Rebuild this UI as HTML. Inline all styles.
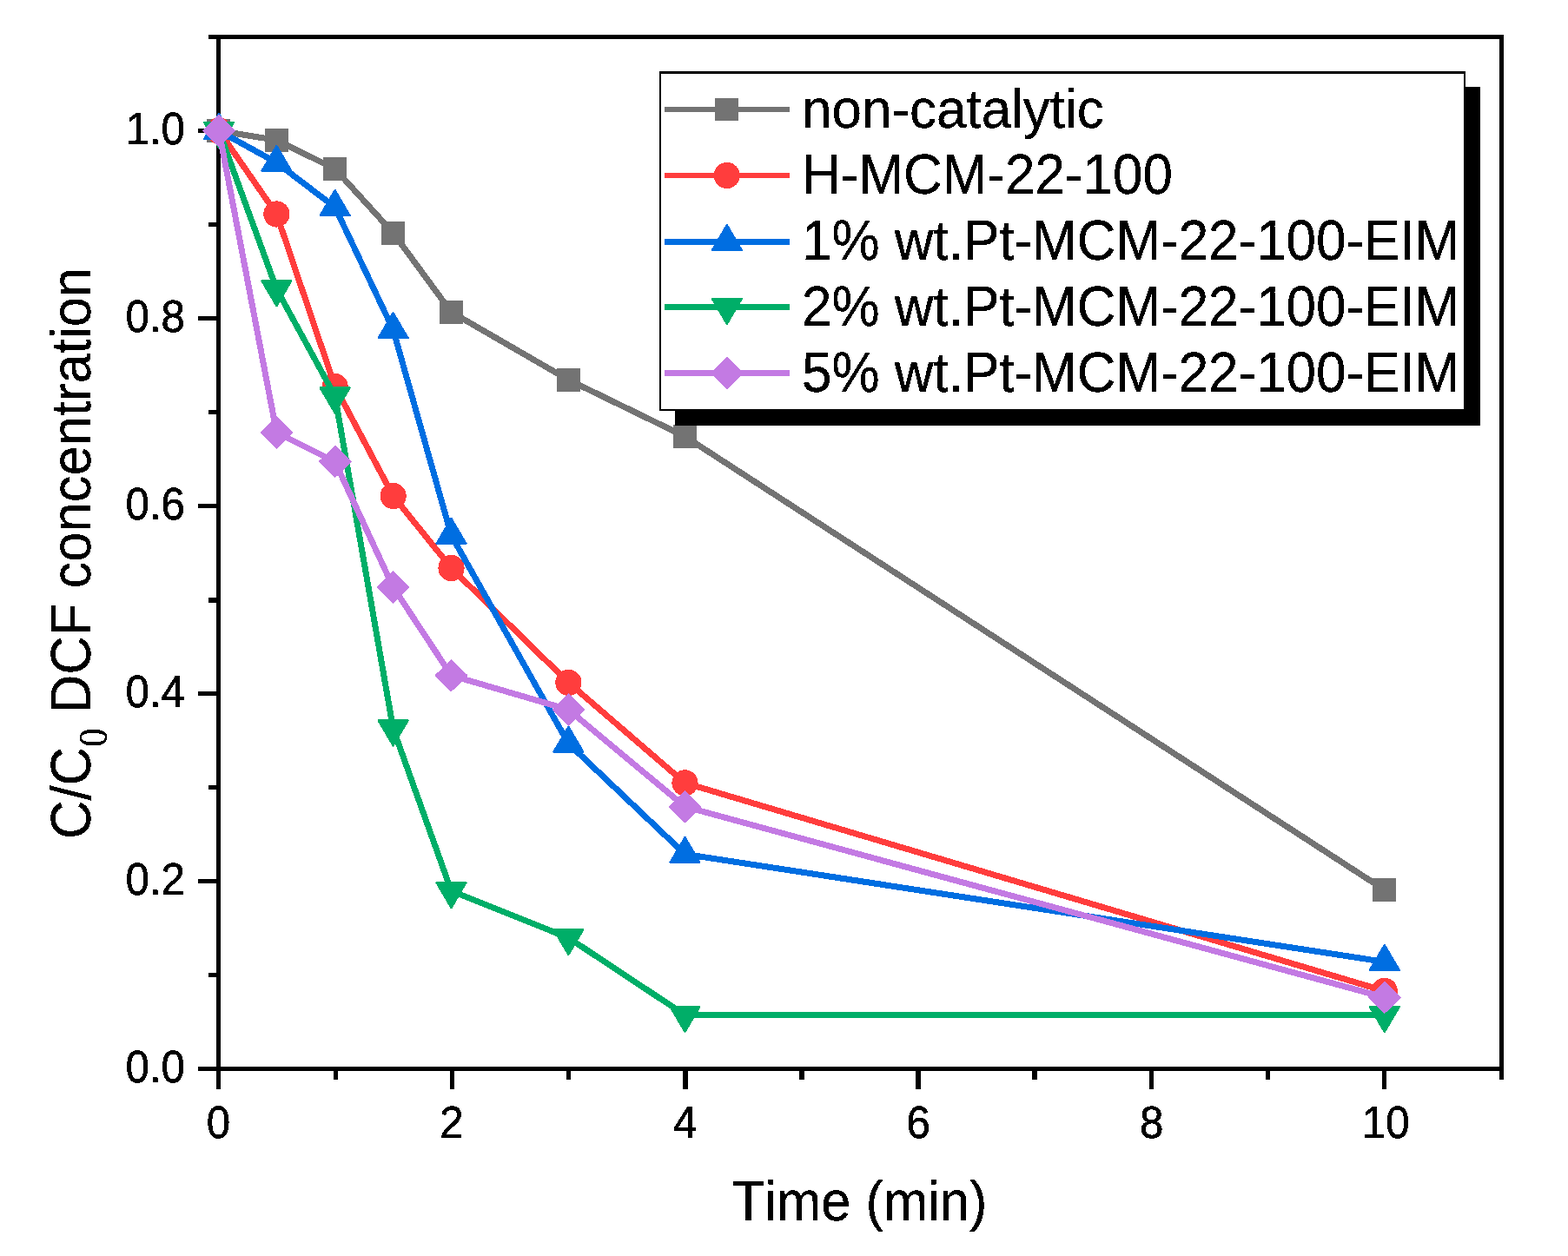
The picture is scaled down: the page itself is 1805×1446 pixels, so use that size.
<!DOCTYPE html>
<html lang="en"><head><meta charset="utf-8"><title>C/C0 DCF concentration vs Time</title>
<style>html,body{margin:0;padding:0;background:#fff}svg{display:block}text{font-family:"Liberation Sans",sans-serif;fill:#000;stroke:#000;stroke-width:0.5px;font-kerning:none;filter:url(#bin)}.tk{font-size:50px}.ti{font-size:62px;stroke-width:0.3px}.lg{font-size:62px;stroke-width:0.3px}.sub{font-family:"Liberation Serif",serif;font-size:43.5px}</style>
</head><body>
<svg width="1805" height="1446" viewBox="0 0 1805 1446">
<defs><filter id="bin" x="-5%" y="-20%" width="110%" height="140%" color-interpolation-filters="sRGB"><feComponentTransfer><feFuncA type="discrete" tableValues="0 1"/></feComponentTransfer></filter></defs>
<rect x="0" y="0" width="1805" height="1446" fill="#fff"/>
<g fill="#000" shape-rendering="crispEdges">
<rect x="249" y="40" width="5" height="1193"/>
<rect x="1726" y="40" width="5" height="1203"/>
<rect x="240" y="40" width="1491" height="5"/>
<rect x="228" y="1228" width="1503" height="5"/>
<rect x="240" y="1120" width="9" height="5"/>
<rect x="228" y="1012" width="21" height="5"/>
<rect x="240" y="904" width="9" height="5"/>
<rect x="228" y="796" width="21" height="5"/>
<rect x="240" y="688" width="9" height="6"/>
<rect x="228" y="580" width="21" height="5"/>
<rect x="240" y="472" width="9" height="5"/>
<rect x="228" y="364" width="21" height="5"/>
<rect x="240" y="256" width="9" height="5"/>
<rect x="228" y="148" width="21" height="5"/>
<rect x="249" y="1233" width="5" height="21"/>
<rect x="384" y="1233" width="5" height="10"/>
<rect x="518" y="1233" width="5" height="21"/>
<rect x="652" y="1233" width="5" height="10"/>
<rect x="786" y="1233" width="6" height="21"/>
<rect x="920" y="1233" width="6" height="10"/>
<rect x="1054" y="1233" width="6" height="21"/>
<rect x="1188" y="1233" width="6" height="10"/>
<rect x="1323" y="1233" width="5" height="21"/>
<rect x="1457" y="1233" width="5" height="10"/>
<rect x="1591" y="1233" width="5" height="21"/>
</g>
<g stroke-linejoin="round" stroke-linecap="round" shape-rendering="crispEdges">
<polyline points="252.00,150.50 318.40,161.40 385.60,194.40 452.60,268.20 519.50,359.30 654.40,437.30 788.50,502.50 1593.80,1024.50" stroke="#737373" stroke-width="7.0" fill="none"/>
<rect x="237.80" y="137.10" width="26.8" height="26.8" fill="#737373"/>
<rect x="305.00" y="148.00" width="26.8" height="26.8" fill="#737373"/>
<rect x="372.20" y="181.00" width="26.8" height="26.8" fill="#737373"/>
<rect x="439.20" y="254.80" width="26.8" height="26.8" fill="#737373"/>
<rect x="506.10" y="345.90" width="26.8" height="26.8" fill="#737373"/>
<rect x="641.00" y="423.90" width="26.8" height="26.8" fill="#737373"/>
<rect x="775.10" y="489.10" width="26.8" height="26.8" fill="#737373"/>
<rect x="1580.40" y="1011.10" width="26.8" height="26.8" fill="#737373"/>
<polyline points="252.00,150.50 318.40,246.50 385.60,445.00 452.60,571.00 519.50,654.00 654.40,785.80 788.50,901.40 1593.80,1140.90" stroke="#FF3D3D" stroke-width="7.0" fill="none"/>
<circle cx="252.00" cy="150.50" r="15.1" fill="#FF3D3D"/>
<circle cx="318.40" cy="246.50" r="15.1" fill="#FF3D3D"/>
<circle cx="385.60" cy="445.00" r="15.1" fill="#FF3D3D"/>
<circle cx="452.60" cy="571.00" r="15.1" fill="#FF3D3D"/>
<circle cx="519.50" cy="654.00" r="15.1" fill="#FF3D3D"/>
<circle cx="654.40" cy="785.80" r="15.1" fill="#FF3D3D"/>
<circle cx="788.50" cy="901.40" r="15.1" fill="#FF3D3D"/>
<circle cx="1593.80" cy="1140.90" r="15.1" fill="#FF3D3D"/>
<polyline points="252.00,150.50 318.40,187.30 385.60,238.50 452.60,379.60 519.50,616.40 654.40,856.10 788.50,983.40 1593.80,1107.40" stroke="#006EE1" stroke-width="7.0" fill="none"/>
<polygon points="252.00,131.20 268.90,160.00 235.10,160.00" fill="#006EE1" stroke="#006EE1" stroke-width="2.4" stroke-linejoin="round"/>
<polygon points="318.40,168.00 335.30,196.80 301.50,196.80" fill="#006EE1" stroke="#006EE1" stroke-width="2.4" stroke-linejoin="round"/>
<polygon points="385.60,219.20 402.50,248.00 368.70,248.00" fill="#006EE1" stroke="#006EE1" stroke-width="2.4" stroke-linejoin="round"/>
<polygon points="452.60,360.30 469.50,389.10 435.70,389.10" fill="#006EE1" stroke="#006EE1" stroke-width="2.4" stroke-linejoin="round"/>
<polygon points="519.50,597.10 536.40,625.90 502.60,625.90" fill="#006EE1" stroke="#006EE1" stroke-width="2.4" stroke-linejoin="round"/>
<polygon points="654.40,836.80 671.30,865.60 637.50,865.60" fill="#006EE1" stroke="#006EE1" stroke-width="2.4" stroke-linejoin="round"/>
<polygon points="788.50,964.10 805.40,992.90 771.60,992.90" fill="#006EE1" stroke="#006EE1" stroke-width="2.4" stroke-linejoin="round"/>
<polygon points="1593.80,1088.10 1610.70,1116.90 1576.90,1116.90" fill="#006EE1" stroke="#006EE1" stroke-width="2.4" stroke-linejoin="round"/>
<polyline points="252.00,150.50 318.40,332.80 385.60,456.00 452.60,839.00 519.50,1025.70 654.40,1079.70 788.50,1168.50 1593.80,1168.60" stroke="#00AE68" stroke-width="7.0" fill="none"/>
<polygon points="252.00,169.80 268.90,141.00 235.10,141.00" fill="#00AE68" stroke="#00AE68" stroke-width="2.4" stroke-linejoin="round"/>
<polygon points="318.40,352.10 335.30,323.30 301.50,323.30" fill="#00AE68" stroke="#00AE68" stroke-width="2.4" stroke-linejoin="round"/>
<polygon points="385.60,475.30 402.50,446.50 368.70,446.50" fill="#00AE68" stroke="#00AE68" stroke-width="2.4" stroke-linejoin="round"/>
<polygon points="452.60,858.30 469.50,829.50 435.70,829.50" fill="#00AE68" stroke="#00AE68" stroke-width="2.4" stroke-linejoin="round"/>
<polygon points="519.50,1045.00 536.40,1016.20 502.60,1016.20" fill="#00AE68" stroke="#00AE68" stroke-width="2.4" stroke-linejoin="round"/>
<polygon points="654.40,1099.00 671.30,1070.20 637.50,1070.20" fill="#00AE68" stroke="#00AE68" stroke-width="2.4" stroke-linejoin="round"/>
<polygon points="788.50,1187.80 805.40,1159.00 771.60,1159.00" fill="#00AE68" stroke="#00AE68" stroke-width="2.4" stroke-linejoin="round"/>
<polygon points="1593.80,1187.90 1610.70,1159.10 1576.90,1159.10" fill="#00AE68" stroke="#00AE68" stroke-width="2.4" stroke-linejoin="round"/>
<polyline points="252.00,150.50 318.40,498.00 385.60,531.50 452.60,676.00 519.50,777.60 654.40,817.00 788.50,928.70 1593.80,1148.30" stroke="#C37AE3" stroke-width="7.0" fill="none"/>
<polygon points="252.00,132.30 270.40,150.50 252.00,168.70 233.60,150.50" fill="#C37AE3" stroke="#C37AE3" stroke-width="1.0" stroke-linejoin="round"/>
<polygon points="318.40,479.80 336.80,498.00 318.40,516.20 300.00,498.00" fill="#C37AE3" stroke="#C37AE3" stroke-width="1.0" stroke-linejoin="round"/>
<polygon points="385.60,513.30 404.00,531.50 385.60,549.70 367.20,531.50" fill="#C37AE3" stroke="#C37AE3" stroke-width="1.0" stroke-linejoin="round"/>
<polygon points="452.60,657.80 471.00,676.00 452.60,694.20 434.20,676.00" fill="#C37AE3" stroke="#C37AE3" stroke-width="1.0" stroke-linejoin="round"/>
<polygon points="519.50,759.40 537.90,777.60 519.50,795.80 501.10,777.60" fill="#C37AE3" stroke="#C37AE3" stroke-width="1.0" stroke-linejoin="round"/>
<polygon points="654.40,798.80 672.80,817.00 654.40,835.20 636.00,817.00" fill="#C37AE3" stroke="#C37AE3" stroke-width="1.0" stroke-linejoin="round"/>
<polygon points="788.50,910.50 806.90,928.70 788.50,946.90 770.10,928.70" fill="#C37AE3" stroke="#C37AE3" stroke-width="1.0" stroke-linejoin="round"/>
<polygon points="1593.80,1130.10 1612.20,1148.30 1593.80,1166.50 1575.40,1148.30" fill="#C37AE3" stroke="#C37AE3" stroke-width="1.0" stroke-linejoin="round"/>
</g>
<text class="tk" transform="translate(213.0,1245.9) scale(0.985,1.04)" text-anchor="end">0.0</text>
<text class="tk" transform="translate(213.0,1029.9) scale(0.985,1.04)" text-anchor="end">0.2</text>
<text class="tk" transform="translate(213.0,813.9) scale(0.985,1.04)" text-anchor="end">0.4</text>
<text class="tk" transform="translate(213.0,597.9) scale(0.985,1.04)" text-anchor="end">0.6</text>
<text class="tk" transform="translate(213.0,381.9) scale(0.985,1.04)" text-anchor="end">0.8</text>
<text class="tk" transform="translate(213.0,165.9) scale(0.985,1.04)" text-anchor="end">1.0</text>
<text class="tk" transform="translate(251.5,1309.8) scale(0.985,1.04)" text-anchor="middle">0</text>
<text class="tk" transform="translate(520.0,1309.8) scale(0.985,1.04)" text-anchor="middle">2</text>
<text class="tk" transform="translate(788.6,1309.8) scale(0.985,1.04)" text-anchor="middle">4</text>
<text class="tk" transform="translate(1057.1,1309.8) scale(0.985,1.04)" text-anchor="middle">6</text>
<text class="tk" transform="translate(1325.7,1309.8) scale(0.985,1.04)" text-anchor="middle">8</text>
<text class="tk" transform="translate(1595.2,1309.8) scale(0.985,1.04)" text-anchor="middle">10</text>
<text class="ti" transform="translate(989.6,1404.9) scale(0.991,1.04)" text-anchor="middle">Time (min)</text>
<text class="ti" transform="translate(104,965.9) rotate(-90) scale(0.993,1.045)">C/C<tspan class="sub" dy="18">0</tspan></text>
<text class="ti" transform="translate(104,821.2) rotate(-90) scale(0.993,1.045)">DCF</text>
<text class="ti" transform="translate(104,677.5) rotate(-90) scale(0.993,1.03)">concentration</text>
<g shape-rendering="crispEdges">
<rect x="777" y="100" width="927" height="390" fill="#000"/>
<rect x="759" y="82" width="928" height="391" fill="#000"/>
<rect x="761" y="85" width="923.5" height="386" fill="#fff"/>
</g>
<rect x="765" y="123" width="144" height="6" fill="#737373" shape-rendering="crispEdges"/>
<g shape-rendering="crispEdges"><rect x="823.40" y="112.60" width="26.8" height="26.8" fill="#737373"/></g>
<text class="lg" transform="translate(923.1,147.1) scale(0.999,1.0)" text-anchor="start">non-catalytic</text>
<rect x="765" y="199" width="144" height="6" fill="#FF3D3D" shape-rendering="crispEdges"/>
<g shape-rendering="crispEdges"><circle cx="836.80" cy="202.00" r="15.1" fill="#FF3D3D"/></g>
<text class="lg" transform="translate(923.1,222.6) scale(0.999,1.045)" text-anchor="start">H-MCM-22-100</text>
<rect x="765" y="275" width="144" height="7" fill="#006EE1" shape-rendering="crispEdges"/>
<g shape-rendering="crispEdges"><polygon points="836.80,259.20 853.70,288.00 819.90,288.00" fill="#006EE1" stroke="#006EE1" stroke-width="2.4" stroke-linejoin="round"/></g>
<text class="lg" transform="translate(923.1,298.6) scale(0.999,1.045)" text-anchor="start">1% wt.Pt-MCM-22-100-EIM</text>
<rect x="765" y="350" width="144" height="7" fill="#00AE68" shape-rendering="crispEdges"/>
<g shape-rendering="crispEdges"><polygon points="836.80,372.80 853.70,344.00 819.90,344.00" fill="#00AE68" stroke="#00AE68" stroke-width="2.4" stroke-linejoin="round"/></g>
<text class="lg" transform="translate(923.1,374.6) scale(0.999,1.045)" text-anchor="start">2% wt.Pt-MCM-22-100-EIM</text>
<rect x="765" y="426" width="144" height="7" fill="#C37AE3" shape-rendering="crispEdges"/>
<g shape-rendering="crispEdges"><polygon points="836.80,411.30 855.20,429.50 836.80,447.70 818.40,429.50" fill="#C37AE3" stroke="#C37AE3" stroke-width="1.0" stroke-linejoin="round"/></g>
<text class="lg" transform="translate(923.1,450.8) scale(0.999,1.045)" text-anchor="start">5% wt.Pt-MCM-22-100-EIM</text>
</svg>
</body></html>
